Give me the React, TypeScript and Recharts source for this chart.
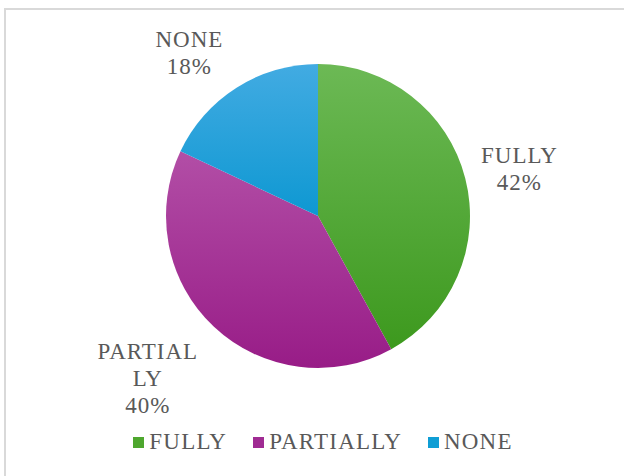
import { PieChart, Pie, Cell, Legend } from 'recharts';

const categories = ['FULLY', 'PARTIALLY', 'NONE'];
const shares = [42, 40, 18];
const labelLines = [['FULLY'], ['PARTIAL', 'LY'], ['NONE']];

const data = categories.map((name, i) => ({ name, value: shares[i] }));

const gradients = [
  { id: 'gFully', top: '#6cb955', bottom: '#3d991e', swatch: '#4ea72e' },
  { id: 'gPart', top: '#b24ea6', bottom: '#981c87', swatch: '#a02b93' },
  { id: 'gNone', top: '#42abe2', bottom: '#0e98d2', swatch: '#0f9ed5' },
];

const SERIF = "'Liberation Serif', 'Times New Roman', serif";
// label placement: radial distance and angle nudge per slice
const labelDist = [207, 235, 208];
const labelTurn = [-1.1, -3.2, 5.8];
const RAD = Math.PI / 180;

const renderLabel = (props: any) => {
  const { cx, cy, midAngle, index, value } = props;
  const r = labelDist[index];
  const a = (midAngle + labelTurn[index]) * RAD;
  const x = cx + r * Math.cos(-a);
  const y = cy + r * Math.sin(-a);
  const lines = [...labelLines[index], `${value}%`];
  const lh = 27;
  const y0 = y - ((lines.length - 1) * lh) / 2;
  return (
    <text
      x={x}
      y={y0}
      textAnchor="middle"
      dominantBaseline="central"
      fill="#595959"
      style={{ fontFamily: SERIF, fontSize: 23, letterSpacing: 1 }}
    >
      {lines.map((t, i) => (
        <tspan key={i} x={x} dy={i === 0 ? 0 : lh}>
          {t}
        </tspan>
      ))}
    </text>
  );
};

const renderLegend = () => (
  <div style={{ display: 'flex', justifyContent: 'center', gap: 26, paddingLeft: 22, fontFamily: SERIF, fontSize: 23, letterSpacing: 1.2, color: '#595959', lineHeight: '26px' }}>
    {categories.map((c, i) => (
      <div key={c} style={{ display: 'flex', alignItems: 'center' }}>
        <span style={{ width: 11, height: 11, background: gradients[i].swatch, marginRight: 5, display: 'inline-block' }} />
        <span>{c}</span>
      </div>
    ))}
  </div>
);

export default function App() {
  return (
    <div style={{ position: 'absolute', left: 0, top: 0, width: 624, height: 476, background: '#fff' }}>
      <div style={{ position: 'absolute', left: 4, top: 8, width: 620, height: 468, borderTop: '2px solid #d9d9d9', borderLeft: '2px solid #d9d9d9' }} />
      <div style={{ position: 'absolute', left: 0, top: 0 }}>
        <PieChart width={624} height={476} margin={{ top: 0, right: 0, bottom: 0, left: 0 }}>
          <defs>
            {gradients.map((g) => (
              <linearGradient key={g.id} id={g.id} x1="0" y1="0" x2="0" y2="1">
                <stop offset="0%" stopColor={g.top} />
                <stop offset="100%" stopColor={g.bottom} />
              </linearGradient>
            ))}
          </defs>
          <Pie
            data={data}
            dataKey="value"
            nameKey="name"
            cx={318}
            cy={216}
            outerRadius={152}
            startAngle={90}
            endAngle={-270}
            stroke="none"
            label={renderLabel}
            labelLine={false}
            isAnimationActive={false}
          >
            {data.map((d, i) => (
              <Cell key={d.name} fill={`url(#${gradients[i].id})`} />
            ))}
          </Pie>
          <Legend
            content={renderLegend}
            verticalAlign="bottom"
            height={0}
            wrapperStyle={{ top: 429, bottom: 'auto', left: 0, width: 624 }}
          />
        </PieChart>
      </div>
    </div>
  );
}
